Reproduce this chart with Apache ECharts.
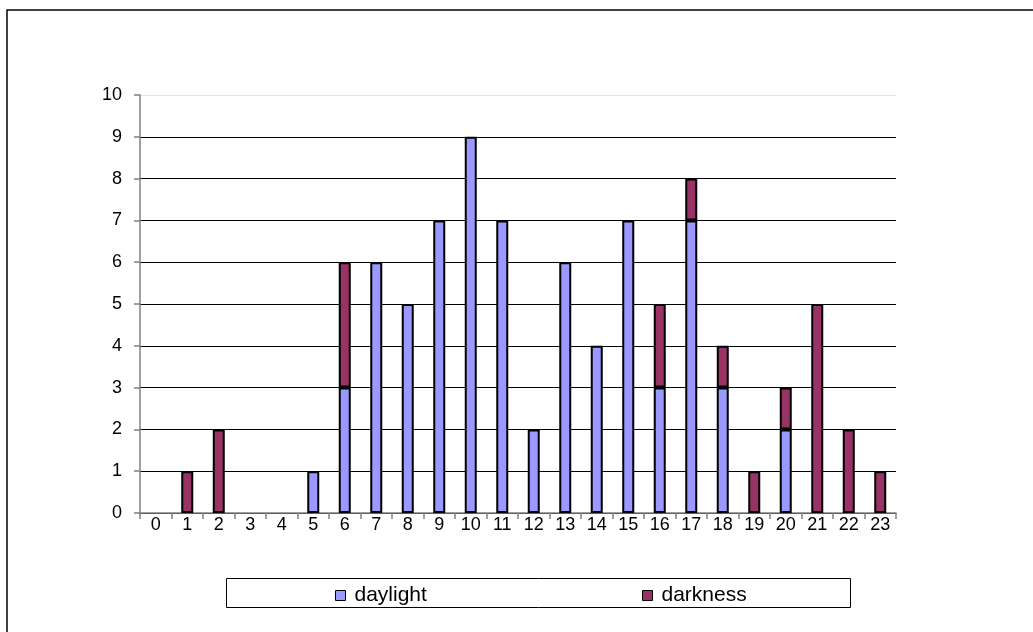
<!DOCTYPE html>
<html><head><meta charset="utf-8">
<script src="https://cdn.jsdelivr.net/npm/echarts@6/dist/echarts.min.js"></script>
<style>html,body{margin:0;padding:0;background:#fff}#c{width:1033px;height:632px}</style>
</head><body><div id="c"></div>
<script>
var hours = ['0','1','2','3','4','5','6','7','8','9','10','11','12','13','14','15','16','17','18','19','20','21','22','23'];
var daylight = [0,0,0,0,0,1,3,6,5,7,9,7,2,6,4,7,3,7,3,0,2,0,0,0];
var darkness = [0,1,2,0,0,0,3,0,0,0,0,0,0,0,0,0,2,1,1,1,1,5,2,1];
var nz = function(a){return a.map(function(v){return v===0?null:v;});};
var chart = echarts.init(document.getElementById('c'));
var font = 'Arial, "Liberation Sans", sans-serif';
var gridColors = ['#000','#000','#000','#000','#000','#000','#000','#000','#000','#000','#e4e4e4'];
var legendText = {fontSize:21,color:'#000',fontFamily:font,padding:[0,0,0,4]};
chart.setOption({
  animation:false,
  textStyle:{fontFamily:font},
  graphic:[
    {type:'rect',shape:{x:7,y:10,width:1040,height:640},style:{fill:'none',stroke:'#000',lineWidth:1.5},z:-1},
    {type:'rect',shape:{x:226.5,y:578.5,width:624,height:29},style:{fill:'#fff',stroke:'#000',lineWidth:1},z:-1}
  ],
  legend:[
    {data:['daylight'],left:330,top:580,itemWidth:10,itemHeight:10,icon:'rect',textStyle:legendText,
     itemStyle:{borderColor:'#000',borderWidth:1}},
    {data:['darkness'],left:637,top:580,itemWidth:10,itemHeight:10,icon:'rect',textStyle:legendText,
     itemStyle:{borderColor:'#000',borderWidth:1}}
  ],
  grid:{left:140,right:137,top:95,bottom:119},
  xAxis:{
    type:'category', data:hours, boundaryGap:true,
    axisLine:{lineStyle:{color:'#808080',width:1.5}},
    axisTick:{show:true,alignWithLabel:false,length:6,lineStyle:{color:'#808080',width:1.5}},
    axisLabel:{color:'#000',fontSize:18,margin:3,fontFamily:font}
  },
  yAxis:{
    type:'value', min:0, max:10, interval:1,
    axisLine:{show:true,lineStyle:{color:'#808080',width:1.5}},
    axisTick:{show:true,length:6,lineStyle:{color:'#808080',width:1.5}},
    axisLabel:{color:'#000',fontSize:18,margin:18,fontFamily:font},
    splitLine:{lineStyle:{color:gridColors,width:1}}
  },
  series:[
    {name:'daylight',type:'bar',stack:'s',data:nz(daylight),barWidth:12,
     itemStyle:{color:'#9999ff',borderColor:'#000',borderWidth:2}},
    {name:'darkness',type:'bar',stack:'s',data:nz(darkness),barWidth:12,
     itemStyle:{color:'#993366',borderColor:'#000',borderWidth:2}}
  ]
});
</script></body></html>
